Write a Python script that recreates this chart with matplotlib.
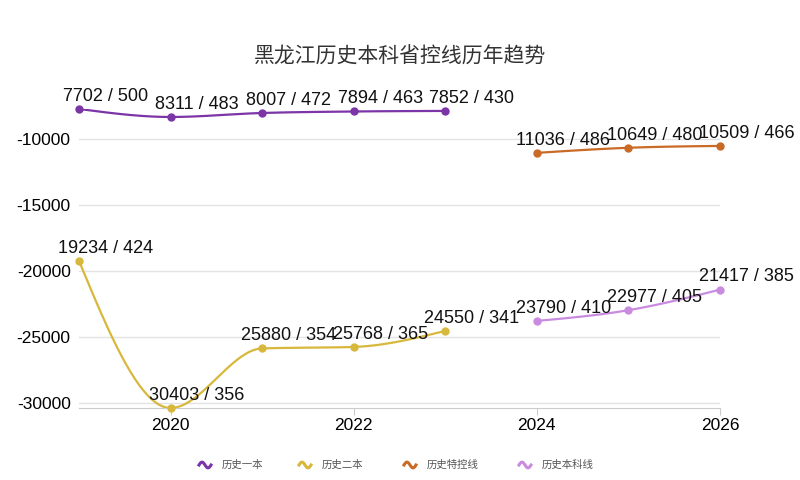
import numpy as np
import matplotlib.pyplot as plt
from matplotlib.lines import Line2D

plt.rcParams['font.family'] = ['Noto Sans CJK SC', 'DejaVu Sans']
plt.rcParams['axes.unicode_minus'] = False

# Data: rank (plotted negative) and score per year
years_a = [2019, 2020, 2021, 2022, 2023]
years_b = [2024, 2025, 2026]

rank_yiben = [7702, 8311, 8007, 7894, 7852]
score_yiben = [500, 483, 472, 463, 430]
rank_erben = [19234, 30403, 25880, 25768, 24550]
score_erben = [424, 356, 354, 365, 341]
rank_tekong = [11036, 10649, 10509]
score_tekong = [486, 480, 466]
rank_benke = [23790, 22977, 21417]
score_benke = [410, 405, 385]

names = ['历史一本', '历史二本', '历史特控线', '历史本科线']
colors = ['#7b35a6', '#d8b83c', '#c96a26', '#c98be0']

series = [
    (years_a, rank_yiben, score_yiben),
    (years_a, rank_erben, score_erben),
    (years_b, rank_tekong, score_tekong),
    (years_b, rank_benke, score_benke),
]


def smooth(x, y, n=40):
    # monotone cubic (Steffen, like d3 curveMonotoneX)
    x = np.asarray(x, float)
    y = np.asarray(y, float)
    h = np.diff(x)
    s = np.diff(y) / h
    m = np.zeros_like(y)
    for i in range(1, len(y) - 1):
        p = (s[i-1]*h[i] + s[i]*h[i-1]) / (h[i-1] + h[i])
        m[i] = (np.sign(s[i-1]) + np.sign(s[i])) * min(abs(s[i-1]), abs(s[i]), 0.5*abs(p))
    m[0] = (3*s[0] - m[1]) / 2 if len(y) > 2 else s[0]
    m[-1] = (3*s[-1] - m[-2]) / 2 if len(y) > 2 else s[-1]
    xs, ys = [], []
    for i in range(len(x) - 1):
        t = np.linspace(0, 1, n)
        h00 = 2*t**3 - 3*t**2 + 1
        h10 = t**3 - 2*t**2 + t
        h01 = -2*t**3 + 3*t**2
        h11 = t**3 - t**2
        xs.append(x[i] + t*h[i])
        ys.append(h00*y[i] + h10*h[i]*m[i] + h01*y[i+1] + h11*h[i]*m[i+1])
    return np.concatenate(xs), np.concatenate(ys)


fig = plt.figure(figsize=(8, 4.8), dpi=100)
ax = fig.add_axes([0.09875, 0.15, 0.80125, 0.623])

for (yrs, rk, sc), c in zip(series, colors):
    vals = -np.array(rk)
    sx, sy = smooth(yrs, vals)
    ax.plot(sx, sy, color=c, lw=1.6)
    ax.plot(yrs, vals, 'o', color=c, ms=5, clip_on=False, zorder=3)
    for x, v, r, s in zip(yrs, vals, rk, sc):
        ax.annotate('%d / %d' % (r, s), (x, v), xytext=(19, 3),
                    textcoords='offset points', ha='center', va='bottom',
                    fontsize=13, family='Liberation Sans', color='#111111',
                    annotation_clip=False, zorder=4)

ax.set_xlim(2019, 2026)
all_vals = [-v for s in series for v in s[1]]
ax.set_ylim(min(all_vals), max(all_vals))
ax.set_xticks([2020, 2022, 2024, 2026])
ax.set_yticks([-30000, -25000, -20000, -15000, -10000])
ax.tick_params(axis='y', length=0, labelsize=12.5, pad=6)
ax.tick_params(axis='x', length=5, color='#cccccc', labelsize=12.5, pad=2)
for lab in ax.get_xticklabels() + ax.get_yticklabels():
    lab.set_family('Liberation Sans')
ax.grid(axis='y', color='#e3e3e3', lw=1)
ax.set_axisbelow(True)
for sp in ['top', 'right', 'left']:
    ax.spines[sp].set_visible(False)
ax.spines['bottom'].set_color('#cccccc')

fig.text(0.5, 1 - 57 / 480, '黑龙江历史本科省控线历年趋势', ha='center', va='center',
         fontsize=15, color='#333333')

# legend with small wave icons
icon_x = [205, 305, 410, 525]
ly = 1 - 465 / 480
for ix, name, c in zip(icon_x, names, colors):
    t = np.linspace(0, 1, 30)
    wx = (ix - 6 + 12*t) / 800
    wy = ly + 0.006*np.sin(2*np.pi*t)
    fig.add_artist(Line2D(wx, wy, color=c, lw=2.2, transform=fig.transFigure))
    fig.text((ix + 17) / 800, ly, name, ha='left', va='center',
             fontsize=7.5, color='#555555')

fig.savefig('out.png', dpi=100)
